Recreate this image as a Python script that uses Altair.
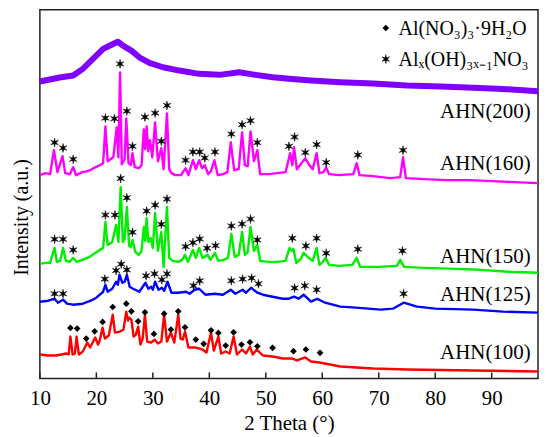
import altair as alt
import pandas as pd

FONT = "Liberation Serif"

# ---------------- data (2-theta in degrees, intensity in arbitrary units) ----------------
series_names = ["AHN(200)", "AHN(160)", "AHN(150)", "AHN(125)", "AHN(100)"]
series_colors = ["#7f00ff", "#ff00ff", "#00ee00", "#0000ff", "#ff0000"]

p200_x = [10, 13.5, 15.9, 17.6, 19.4, 21.2, 22.6, 23.8, 24.7, 26.2, 27.6, 29.4, 31.8, 34.7, 38.2,
          41.8, 45.3, 48.2, 51.2, 54.1, 58, 63.2, 69, 75, 81, 86.7, 92, 98.2]
p200_y = [298, 302, 304, 310.7, 320.7, 330.7, 334.7, 338, 334, 329, 322.3, 316.7, 312.3, 309, 305.7,
          304.7, 307.3, 304.7, 302.3, 300.7, 299, 297.3, 296, 294, 293, 291.7, 290.5, 288.3]

p160_x = [10, 11, 11.8, 12.5, 13.1, 14.0, 14.5, 15.3, 15.9, 16.4, 17.5, 18.5, 19.5, 20.6, 21.2, 21.6,
          22.0, 23.0, 23.6, 23.9, 24.2, 24.5, 25.0, 25.3, 25.7, 26.1, 26.4, 26.8, 27.5, 28.0, 28.4,
          28.65, 28.9, 29.2, 29.5, 29.9, 30.4, 30.9, 31.5, 31.9, 32.5, 32.9, 33.3, 34, 35, 35.8, 36.3,
          37.1, 37.6, 38.2, 38.7, 39.2, 39.8, 40.3, 40.9, 41.5, 42.5, 43.2, 43.8, 44.4, 45.2, 45.8,
          46.3, 46.8, 47.3, 47.9, 48.5, 49.0, 50.5, 52, 53.5, 54.3, 54.7, 55.0, 55.5, 56.3, 57.0, 57.6,
          58.3, 59.0, 59.5, 60.2, 60.7, 61.2, 63, 65.5, 66.1, 66.6, 69, 72, 73.8, 74.3, 74.8, 78, 82,
          86, 90, 94, 98.2]
p160_y = [204, 206, 205, 229, 207, 223, 206, 205, 212, 204, 207, 208, 211, 214, 216, 253,
          218, 222, 252, 222, 307, 215, 220, 261, 216, 214, 226, 212, 211, 214, 250,
          230, 253, 228, 239, 222, 257, 218, 231, 210, 266, 210, 206, 204, 204, 211, 204,
          219, 210, 219, 211, 214, 205, 208, 219, 204, 205, 207, 237, 209, 210, 247,
          214, 213, 248, 218, 229, 205, 205, 206, 207, 226, 214, 232, 210, 216, 221, 215,
          210, 226, 206, 207, 212, 205, 204, 205, 216, 204, 203, 201, 202, 222, 201, 200, 199,
          199, 198, 197, 196]

p150_x = [10, 11, 11.8, 12.6, 13.0, 13.6, 14.1, 14.6, 15.3, 15.9, 16.5, 17.5, 18.8, 19.8, 20.6, 21.2,
          21.6, 22.0, 22.8, 23.5, 23.9, 24.3, 24.7, 25.0, 25.4, 25.8, 26.1, 26.4, 26.9, 27.5, 28.0,
          28.4, 28.65, 28.9, 29.2, 29.6, 30.0, 30.4, 30.9, 31.5, 31.9, 32.5, 32.9, 33.5, 34.5, 35.2,
          35.7, 36.2, 37.1, 37.6, 38.2, 38.8, 39.7, 40.2, 41.0, 41.6, 42.5, 43.3, 43.9, 44.5, 45.2,
          45.8, 46.3, 46.8, 47.3, 47.9, 48.5, 49.0, 50.5, 52, 53.5, 54.2, 54.6, 54.9, 55.4, 56.2,
          56.7, 57.4, 58.3, 59.0, 59.5, 60.1, 60.6, 61.2, 63, 65.3, 66.1, 66.7, 70, 73.2, 73.8, 74.5,
          78, 83.8, 88, 93, 98.2]
p150_y = [115, 116, 116, 131, 117, 118, 131, 118, 117, 121, 117, 119, 122, 126, 129, 131,
          157, 134, 137, 154, 137, 192, 137, 140, 172, 133, 132, 139, 127, 124, 128,
          152, 138, 161, 137, 141, 131, 166, 128, 147, 112, 172, 121, 118, 117, 119,
          124, 117, 129, 121, 131, 121, 124, 119, 126, 118, 119, 121, 145, 122, 124,
          147, 124, 127, 152, 128, 134, 118, 117, 117, 118, 131, 128, 130, 116, 120,
          126, 122, 118, 131, 114, 117, 121, 114, 113, 114, 121, 112, 112, 113, 119, 112,
          111, 110, 109, 107, 106]

p125_x = [10, 11.5, 12.6, 13.2, 14.1, 14.8, 15.9, 17.6, 19, 20, 21.2, 21.6, 22.0, 22.8, 23.5, 23.8,
          24.1, 24.6, 25.0, 25.4, 25.9, 26.5, 27.6, 28.7, 29.2, 29.7, 30.0, 30.4, 31.0, 31.6, 32.0,
          32.6, 33.3, 34.5, 35.9, 36.5, 37.4, 38.2, 39.3, 41, 42.4, 43.8, 44.6, 45.9, 46.5, 47.4,
          48.5, 49.5, 51.2, 53, 54.1, 55.0, 55.8, 56.7, 58.0, 59.1, 60.5, 63.2, 66, 70.3, 72.5, 74.4,
          76.8, 80, 86.7, 92, 98.2]
p125_y = [77, 78, 80, 76, 79, 75, 74, 75, 78, 81, 87, 94, 87, 90, 97, 94,
          104, 96, 97, 104, 92, 90, 87, 96, 90, 92, 89, 97, 89, 91, 88,
          97, 86, 86, 87, 85, 89, 90, 84, 85, 84, 89, 85, 89, 86, 91,
          86, 84, 82, 80, 80, 82, 80, 84, 77, 80, 76, 72, 71, 69, 70, 76,
          72, 70, 69, 67, 66]

p100_x = [10, 11.5, 12.9, 14.7, 15.1, 15.4, 15.8, 16.2, 16.5, 16.9, 17.6, 18.4, 18.9, 19.8, 20.3, 20.6,
          21.1, 21.5, 22.2, 22.9, 23.3, 24.2, 24.8, 25.3, 25.6, 25.8, 26.2, 26.6, 27.0, 27.4, 27.8,
          28.2, 28.6, 29.0, 29.7, 30.3, 30.9, 31.5, 32.0, 32.5, 33.2, 33.8, 34.5, 34.9, 35.3, 35.7,
          36.3, 37.6, 38.8, 39.5, 40.3, 40.8, 41.6, 42.1, 42.9, 43.6, 44.3, 44.9, 45.8, 46.5, 47.2,
          47.7, 48.4, 49.5, 51.2, 53.0, 54.6, 55.5, 57.0, 58.0, 59.5, 63.2, 69, 75, 86.7, 98.2]
p100_y = [24, 23, 23, 25, 24, 42, 24, 25, 42, 24, 27, 36, 31, 41, 34, 38,
          51, 40, 43, 64, 46, 47, 49, 67, 58, 61, 59, 42, 44, 52, 34,
          40, 64, 37, 36, 39, 35, 37, 64, 37, 46, 36, 64, 40, 39, 47,
          31, 31, 29, 26, 46, 28, 42, 25, 27, 25, 42, 24, 29, 25, 32,
          24, 29, 23, 22, 20, 20, 18, 21, 17, 16, 12, 10, 9, 8, 7]

# peak markers: Al_x(OH)_{3x-1}NO3 (stars) and Al(NO3)3·9H2O (diamonds)
star160_x = [12.6, 14.1, 15.9, 21.6, 23.2, 24.2, 25.4, 26.4, 28.6, 30.4, 31.5, 32.5, 35.8, 37.1, 38.3,
             39.2, 41.0, 43.9, 45.8, 47.3, 48.5, 54.1, 55.1, 57.0, 59.0, 60.7, 66.3, 74.3]
star160_y = [236.7, 231.3, 220, 261.3, 260.7, 315.7, 268.3, 233, 262.3, 266.3, 238, 274, 219, 227.3, 227.3,
             221.3, 227.3, 245.3, 254.7, 258.7, 236.7, 233, 242.3, 226.7, 234.7, 216.7, 224.3, 229]
star150_x = [12.6, 14.1, 15.9, 21.6, 23.3, 24.3, 25.4, 26.4, 28.9, 30.4, 31.5, 32.5, 35.8, 37.1, 38.3,
             39.6, 41.1, 43.9, 45.8, 47.3, 48.5, 54.7, 57.1, 59.0, 60.7, 66.3, 74.2]
star150_y = [139.7, 139.7, 129, 164, 164, 200.7, 181.3, 146.7, 168, 174, 154.7, 180, 132.3, 136.3, 140,
             130.7, 133.3, 153, 155, 160, 139, 140.7, 133, 140.7, 125.7, 129.7, 128]
star125_x = [12.6, 14.1, 21.5, 23.5, 24.4, 25.4, 28.8, 30.3, 31.6, 32.5, 37.2, 38.3, 43.9, 45.9, 47.5,
             48.7, 55.1, 56.9, 59.0, 74.4]
star125_y = [85, 85, 99.7, 108.3, 114.7, 109, 103, 105, 99, 105, 93, 98, 98, 99.7, 100.7,
             95, 90.7, 93, 89, 85]
dia100_x = [15.4, 16.6, 18.2, 19.7, 21.1, 22.9, 25.3, 26.2, 27.4, 28.6, 30.2, 32.0, 33.2, 34.5, 35.7,
            37.6, 39.0, 40.3, 41.6, 42.9, 44.3, 45.7, 47.2, 48.5, 51.2, 54.9, 57.1, 59.6]
dia100_y = [50.7, 50, 40, 47.3, 56.7, 71.7, 75, 67.3, 57.3, 66.3, 44.7, 65, 49, 67.3, 51.3,
            39, 34.7, 48.3, 45.7, 33, 46.3, 34, 36.3, 32.3, 30.7, 27.3, 29, 25.7]

label_y = [261.7, 209, 115.7, 78, 19]
label_x = 96.9

legend_texts = ["Al(NO\u2083)\u2083\u00b79H\u2082O", "Al\u2093(OH)\u2083\u2093\u208b\u2081NO\u2083"]
legend_text_x = 73.5
legend_text_y = [345, 313.5]
legend_mark_x = 71.25
legend_mark_y = [351.7, 320.5]

tick_vals = [10, 20, 30, 40, 50, 60, 70, 80, 90]

# ---------------- tables ----------------
xs = [p200_x, p160_x, p150_x, p125_x, p100_x]
ys = [p200_y, p160_y, p150_y, p125_y, p100_y]
lines = pd.concat([pd.DataFrame({"x": a, "y": b, "series": n}) for a, b, n in zip(xs, ys, series_names)],
                  ignore_index=True)
stars = pd.DataFrame({"x": star160_x + star150_x + star125_x + [legend_mark_x],
                      "y": star160_y + star150_y + star125_y + [legend_mark_y[1]]})
dias = pd.DataFrame({"x": dia100_x + [legend_mark_x], "y": dia100_y + [legend_mark_y[0]]})
labels = pd.DataFrame({"x": [label_x] * 5, "y": label_y, "t": series_names})
legend = pd.DataFrame({"x": [legend_text_x] * 2, "y": legend_text_y, "t": legend_texts})
ticks = pd.DataFrame({"x": tick_vals})

xscale = alt.Scale(domain=[10, 98.2], nice=False, zero=False)
yscale = alt.Scale(domain=[0, 370], nice=False, zero=False)
xaxis = alt.Axis(values=tick_vals, ticks=False, tickSize=0, domain=False, grid=False,
                 labelPadding=9, labelFlush=False, labelFontSize=21, labelFont=FONT, labelColor="black",
                 title="2 Theta (\u00b0)", titleFont=FONT, titleFontSize=21, titleFontWeight="normal",
                 titleColor="black", titlePadding=4)
yaxis = alt.Axis(labels=False, ticks=False, domain=False, grid=False,
                 title="Intensity (a.u.)", titleFont=FONT, titleFontSize=20, titleFontWeight="normal",
                 titleColor="black", titleX=-12, titleY=208, titleAngle=270, titleBaseline="alphabetic",
                 titleAlign="center")
X = alt.X("x:Q", scale=xscale, axis=xaxis)
Y = alt.Y("y:Q", scale=yscale, axis=yaxis)

base_lines = alt.Chart(lines).encode(
    x=X, y=Y,
    color=alt.Color("series:N", scale=alt.Scale(domain=series_names, range=series_colors), legend=None),
)
thick = base_lines.transform_filter(alt.datum.series == "AHN(200)").mark_line(strokeWidth=6, strokeJoin="round")
thin = base_lines.transform_filter(alt.datum.series != "AHN(200)").mark_line(strokeWidth=2.4, strokeJoin="round")

STAR = ("M0,-1L0.22,0L0,1L-0.22,0Z M0.866,-0.5L0.11,0.19L-0.866,0.5L-0.11,-0.19Z "
        "M0.866,0.5L-0.11,0.19L-0.866,-0.5L0.11,-0.19Z")
star_layer = alt.Chart(stars).mark_point(shape=STAR, filled=True, color="black", size=80, opacity=1,
                                         strokeWidth=0.5, stroke="black").encode(x=X, y=Y)
dia_layer = alt.Chart(dias).mark_point(shape="diamond", filled=True, color="black", size=45,
                                       opacity=1).encode(x=X, y=Y)
label_layer = alt.Chart(labels).mark_text(align="right", baseline="alphabetic", font=FONT,
                                          fontSize=21, color="black").encode(x=X, y=Y, text="t:N")
legend_layer = alt.Chart(legend).mark_text(align="left", baseline="alphabetic", font=FONT,
                                           fontSize=20, color="black").encode(x=X, y=Y, text="t:N")
tick_layer = alt.Chart(ticks).mark_rule(color="#222222", strokeWidth=1.5).encode(
    x=X, y=alt.value(370), y2=alt.value(364))

chart = alt.layer(thick, thin, star_layer, dia_layer, label_layer, legend_layer, tick_layer).properties(
    width=500, height=370, autosize="none",
    padding={"left": 32, "top": 1, "right": 4, "bottom": 56},
    background="white",
).configure_view(stroke="#222222", strokeWidth=1.5)

chart.save("out.html", embed_options={"renderer": "svg", "actions": False})
